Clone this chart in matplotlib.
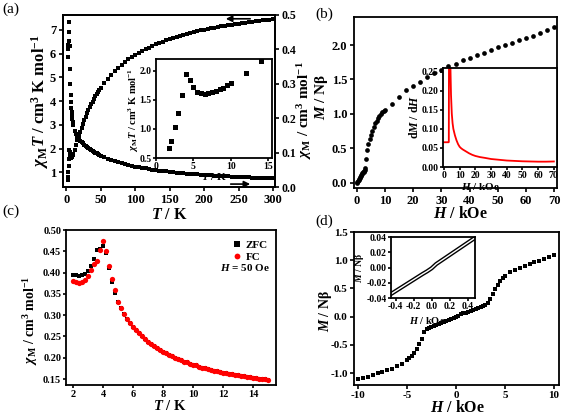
import numpy as np
import matplotlib
matplotlib.use('Agg')
import matplotlib.pyplot as plt

plt.rcParams['font.family'] = 'Liberation Serif'
plt.rcParams['font.weight'] = 'bold'
plt.rcParams['mathtext.fontset'] = 'custom'
plt.rcParams['mathtext.rm'] = 'Liberation Serif:bold'
plt.rcParams['mathtext.it'] = 'Liberation Serif:italic:bold'
plt.rcParams['mathtext.bf'] = 'Liberation Serif:bold'
plt.rcParams['axes.unicode_minus'] = False
plt.rcParams['axes.linewidth'] = 1.3

# ----- (a) chiT and chi vs T -----
T_a = [1.8, 2, 2.5, 3, 3.5, 4, 4.5, 5, 5.5, 6, 6.5, 7, 7.5, 8, 8.5, 9, 9.5, 10,
       12, 14, 16, 18, 20, 22, 24, 26, 28, 30, 32, 34, 36, 38, 40, 42, 44, 46, 48, 50,
       55, 60, 65, 70, 75, 80, 85, 90, 95, 100, 105, 110, 115, 120, 125, 130, 135, 140,
       145, 150, 155, 160, 165, 170, 175, 180, 185, 190, 195, 200, 205, 210, 215, 220,
       225, 230, 235, 240, 245, 250, 255, 260, 265, 270, 275, 280, 285, 290, 295, 300]
chiT_a = [0.68, 0.80, 1.03, 1.27, 1.58, 1.95, 1.84, 1.72, 1.64, 1.61, 1.60, 1.61, 1.63, 1.65, 1.68, 1.71, 1.75, 1.79,
          1.96, 2.16, 2.36, 2.52, 2.69, 2.87, 3.04, 3.20, 3.35, 3.49, 3.62, 3.75, 3.87, 3.98, 4.09, 4.20, 4.29, 4.39, 4.48, 4.57,
          4.77, 4.95, 5.12, 5.27, 5.40, 5.53, 5.65, 5.76, 5.86, 5.95, 6.04, 6.12, 6.19, 6.26, 6.33, 6.40, 6.46, 6.51,
          6.57, 6.62, 6.66, 6.71, 6.75, 6.80, 6.84, 6.87, 6.91, 6.94, 6.98, 7.01, 7.04, 7.07, 7.10, 7.13,
          7.15, 7.18, 7.20, 7.22, 7.25, 7.27, 7.29, 7.31, 7.33, 7.35, 7.37, 7.39, 7.40, 7.42, 7.44, 7.45]
chi_a = [0.378, 0.400, 0.412, 0.423, 0.451, 0.480, 0.409, 0.344, 0.298, 0.268, 0.246, 0.230, 0.217, 0.206, 0.198, 0.190, 0.184, 0.179,
         0.163, 0.154, 0.1475, 0.140, 0.1345, 0.130, 0.1266, 0.123, 0.1195, 0.1162, 0.1131, 0.1102, 0.1074, 0.1048, 0.1023, 0.100, 0.0976, 0.0954, 0.0933, 0.0913,
         0.0867, 0.0825, 0.0787, 0.0752, 0.0720, 0.0691, 0.0664, 0.0639, 0.0616, 0.0595, 0.0575, 0.0556, 0.0539, 0.0522, 0.0507, 0.0492, 0.0478, 0.0465,
         0.0453, 0.0441, 0.0430, 0.0419, 0.0409, 0.0400, 0.0391, 0.0382, 0.0373, 0.0365, 0.0358, 0.0350, 0.0343, 0.0337, 0.0330, 0.0324,
         0.0318, 0.0312, 0.0306, 0.0301, 0.0296, 0.0291, 0.0286, 0.0281, 0.0277, 0.0272, 0.0268, 0.0264, 0.0260, 0.0256, 0.0252, 0.0248]
# inset uses the low temperature part (T <= 14 K)
n_inset = 20

# ----- (b) M vs H at 2 K, and dM/dH -----
H_b = [0, 0.2, 0.4, 0.6, 0.8, 1.0, 1.2, 1.4, 1.6, 1.8, 2.0, 2.2, 2.4, 2.6, 2.8, 3.0, 3.2, 3.5,
       4.0, 4.5, 5.0, 5.5, 6.0, 6.5, 7.0, 7.5, 8.0, 8.5, 9.0, 9.5, 10.0,
       12.5, 15, 17.5, 20, 22.5, 25, 27.5, 30, 32.5, 35, 37.5, 40, 42.5, 45, 47.5, 50,
       52.5, 55, 57.5, 60, 62.5, 65, 67.5, 70]
M_b = [0, 0.013, 0.027, 0.040, 0.054, 0.067, 0.080, 0.094, 0.107, 0.120, 0.134, 0.147, 0.160, 0.174, 0.187, 0.21, 0.34, 0.47,
       0.56, 0.63, 0.69, 0.75, 0.81, 0.86, 0.90, 0.94, 0.97, 1.00, 1.02, 1.04, 1.06,
       1.15, 1.25, 1.34, 1.40, 1.47, 1.53, 1.59, 1.64, 1.69, 1.73, 1.78, 1.82, 1.86, 1.89, 1.93, 1.97,
       2.00, 2.03, 2.07, 2.10, 2.14, 2.18, 2.22, 2.27]
H_deriv = [0, 0.5, 1, 1.5, 2, 2.5, 3.0, 3.1, 3.5, 4.0, 4.2, 4.5, 5, 5.5, 6, 7, 8, 9, 10, 11, 12, 14, 16, 18,
           20, 23, 26, 30, 35, 40, 45, 50, 55, 60, 65, 70]
dMdH = [0.065, 0.065, 0.065, 0.065, 0.065, 0.065, 0.065, 0.066, 0.90, 0.30, 0.25, 0.19, 0.14, 0.115, 0.10, 0.083,
        0.070, 0.060, 0.053, 0.049, 0.046, 0.041, 0.036, 0.032, 0.029, 0.026, 0.024, 0.021, 0.019, 0.017, 0.016,
        0.015, 0.0145, 0.014, 0.014, 0.0145]

# ----- (c) ZFC / FC -----
T_c = [2.0, 2.2, 2.4, 2.6, 2.8, 3.0, 3.2, 3.4, 3.6, 3.8, 4.0, 4.2, 4.4, 4.6, 4.8,
       5.0, 5.2, 5.4, 5.6, 5.8, 6.0, 6.2, 6.4, 6.6, 6.8, 7.0, 7.2, 7.4, 7.6, 7.8,
       8.0, 8.2, 8.4, 8.6, 8.8, 9.0, 9.2, 9.4, 9.6, 9.8, 10.0, 10.2, 10.4, 10.6, 10.8,
       11.0, 11.2, 11.4, 11.6, 11.8, 12.0, 12.2, 12.4, 12.6, 12.8, 13.0, 13.2, 13.4, 13.6, 13.8,
       14.0, 14.2, 14.4, 14.6, 14.8, 15.0]
zfc_low = [0.395, 0.394, 0.393, 0.394, 0.397, 0.404, 0.416, 0.431, 0.453, 0.455, 0.462, 0.446, 0.410, 0.378, 0.353]
fc_low = [0.380, 0.377, 0.376, 0.377, 0.382, 0.391, 0.405, 0.420, 0.428, 0.452, 0.473, 0.450, 0.416, 0.384, 0.359]
chi_tail = [0.330, 0.316, 0.303, 0.292, 0.282, 0.273, 0.265, 0.257, 0.250, 0.244, 0.238, 0.232, 0.227, 0.223, 0.218,
            0.214, 0.210, 0.207, 0.203, 0.200, 0.197, 0.194, 0.191, 0.189, 0.186, 0.184, 0.182, 0.179, 0.177, 0.175,
            0.174, 0.172, 0.170, 0.168, 0.167, 0.165, 0.164, 0.163, 0.161, 0.160, 0.159, 0.157, 0.156, 0.155, 0.154,
            0.153, 0.152, 0.151, 0.150, 0.149, 0.148]
zfc = zfc_low + chi_tail
fc = fc_low + chi_tail

# ----- (d) hysteresis loop -----
H_d = [-10, -9.5, -9, -8.5, -8, -7.5, -7, -6.5, -6, -5.5, -5, -4.75, -4.5, -4.25, -4, -3.75, -3.5, -3.25,
       -3.0, -2.75, -2.5, -2.25, -2.0, -1.75, -1.5, -1.25, -1.0, -0.75, -0.5, -0.25, 0.0,
       0.25, 0.5, 0.75, 1.0, 1.25, 1.5, 1.75, 2.0, 2.25, 2.5, 2.75, 3.0,
       3.25, 3.5, 3.75, 4.0, 4.25, 4.5, 4.75, 5.0, 5.5, 6.0, 6.5, 7.0, 7.5, 8.0, 8.5, 9.0, 9.5, 10.0]
M_d = [-1.11, -1.085, -1.06, -1.035, -1.005, -0.98, -0.95, -0.92, -0.88, -0.835, -0.775, -0.74, -0.695, -0.64, -0.57, -0.49, -0.39, -0.28,
       -0.22, -0.202, -0.184, -0.166, -0.148, -0.13, -0.112, -0.094, -0.076, -0.058, -0.04, -0.02, 0.0,
       0.02, 0.04, 0.057, 0.074, 0.091, 0.108, 0.125, 0.142, 0.159, 0.176, 0.193, 0.21,
       0.235, 0.32, 0.41, 0.49, 0.56, 0.625, 0.68, 0.72, 0.785, 0.825, 0.86, 0.895, 0.93, 0.96, 0.99, 1.02, 1.05, 1.09]
H_loop = [-0.5, -0.4, -0.3, -0.2, -0.1, -0.05, 0.0, 0.05, 0.1, 0.2, 0.3, 0.4, 0.5]
M_loop = [-0.0385, -0.031, -0.0235, -0.016, -0.0085, -0.005, -0.001, 0.0045, 0.0085, 0.0165, 0.0245, 0.0325, 0.0405]

W, H = 563, 415


def box(left, top, right, bottom):
    return [left / W, 1 - bottom / H, (right - left) / W, (bottom - top) / H]


def label(x, y, s, size, rot=0, **kw):
    fig.text(x / W, 1 - y / H, s, fontsize=size, rotation=rot, ha='center', va='center', **kw)


def style(ax, size, length=3, pad=2):
    ax.tick_params(direction='out', length=length, width=1.2, labelsize=size, pad=pad)
    for sp in ax.spines.values():
        sp.set_linewidth(1.3)


fig = plt.figure(figsize=(5.63, 4.15), dpi=100)

# (a)
ax = fig.add_axes(box(63, 15, 275, 187))
ax.plot(T_a, chiT_a, 's', color='black', ms=2.9, mew=0)
ax.set_xlim(-5, 303)
ax.set_ylim(0.38, 7.63)
ax.set_xticks([0, 50, 100, 150, 200, 250, 300])
ax.set_yticks([1, 2, 3, 4, 5, 6, 7])
style(ax, 9)
ax2 = ax.twinx()
ax2.plot(T_a, chi_a, 's', color='black', ms=2.9, mew=0)
ax2.set_ylim(0, 0.5)
ax2.set_yticks([0.0, 0.1, 0.2, 0.3, 0.4, 0.5])
ax2.set_yticklabels(['0.0', '0.1', '0.2', '0.3', '0.4', '0.5'])
style(ax2, 8.5, pad=1.5)
ax.annotate('', xy=(0.755, 0.978), xytext=(0.896, 0.978), xycoords='axes fraction',
            arrowprops=dict(arrowstyle='-|>', color='black', lw=1.2, mutation_scale=9))
ax.annotate('', xy=(0.896, 0.017), xytext=(0.778, 0.017), xycoords='axes fraction',
            arrowprops=dict(arrowstyle='-|>', color='black', lw=1.2, mutation_scale=9))

axi = fig.add_axes(box(156, 59, 272, 158))
axi.plot(T_a[:n_inset], chiT_a[:n_inset], 's', color='black', ms=3.6, mew=0)
axi.set_xlim(0, 15.5)
axi.set_ylim(0.5, 2.2)
axi.set_xticks([0, 5, 10, 15])
axi.set_yticks([0.5, 1.0, 1.5, 2.0])
style(axi, 7, length=2, pad=1)

label(169, 215, r'$T$ / K', 11.5)
label(40, 101, r'$\chi_{\rm M}T$ / cm$^3$ K mol$^{-1}$', 12, rot=90)
label(305, 110, r'$\chi_{\rm M}$ / cm$^3$ mol$^{-1}$', 11, rot=90)
label(134, 110, r'$\chi_{\rm M}T$ / cm$^3$ K mol$^{-1}$', 7.5, rot=90)
label(214, 176, r'$T$ / K', 8)

# (b)
bx = fig.add_axes(box(354, 17, 557, 188))
bx.plot(H_b, M_b, 'o', color='black', ms=3.4, mew=0)
bx.set_xlim(-1, 71)
bx.set_ylim(-0.08, 2.41)
bx.set_xticks([0, 10, 20, 30, 40, 50, 60, 70])
bx.set_yticks([0.0, 0.5, 1.0, 1.5, 2.0])
style(bx, 9)

bxi = fig.add_axes(box(443, 68, 557, 167))
bxi.plot(H_deriv, dMdH, '-', color='red', lw=1.3)
bxi.set_xlim(-0.6, 72)
bxi.set_ylim(0, 0.26)
bxi.set_xticks([0, 10, 20, 30, 40, 50, 60, 70])
bxi.set_yticks([0.00, 0.05, 0.10, 0.15, 0.20, 0.25])
style(bxi, 7, length=2, pad=1)

label(322, 97, r'$M$ / Nβ', 11, rot=90)
label(460, 214, r'$H$ / kOe', 11.5)
label(415, 117, r'd$M$ / d$H$', 8.5, rot=90)
label(480, 186, r'$H$ / kOe', 8)

# (c)
cx = fig.add_axes(box(66, 230, 276, 385))
cx.plot(T_c, zfc, 's', color='black', ms=3.4, mew=0, label='ZFC')
cx.plot(T_c, fc, 'o', color='red', ms=3.8, mew=0, label='FC')
cx.set_xlim(1.52, 15.5)
cx.set_ylim(0.136, 0.5)
cx.set_xticks([2, 4, 6, 8, 10, 12, 14])
cx.set_yticks([0.15, 0.20, 0.25, 0.30, 0.35, 0.40, 0.45, 0.50])
style(cx, 7.5, length=2.5, pad=1)
cx.legend(loc='upper right', bbox_to_anchor=(1.01, 1.0), frameon=False, fontsize=8,
          handletextpad=0.2, labelspacing=0.25, handlelength=1.2, markerscale=1.1)
cx.text(0.97, 0.76, r'$H$ = 50 Oe', transform=cx.transAxes, ha='right', va='center', fontsize=8)

label(31, 320, r'$\chi_{\rm M}$ / cm$^3$ mol$^{-1}$', 10, rot=90)
label(170, 406, r'$T$ / K', 10.5)

# (d)
dx = fig.add_axes(box(354, 232, 559, 385))
dx.plot(H_d, M_d, 's', color='black', ms=2.6, mew=0)
dx.set_xlim(-10.4, 10.5)
dx.set_ylim(-1.21, 1.5)
dx.set_xticks([-10, -5, 0, 5, 10])
dx.set_yticks([-1.0, -0.5, 0.0, 0.5, 1.0, 1.5])
style(dx, 8, pad=1.5)

dxi = fig.add_axes(box(391, 237, 475, 298))
dxi.plot(H_loop, M_loop, '-', color='black', lw=3.0)
dxi.plot(H_loop, M_loop, '-', color='white', lw=1.0)
dxi.set_xlim(-0.45, 0.48)
dxi.set_ylim(-0.04, 0.04)
dxi.set_xticks([-0.4, -0.2, 0.0, 0.2, 0.4])
dxi.set_yticks([-0.04, -0.02, 0.00, 0.02, 0.04])
style(dxi, 7, length=2, pad=1)

label(326, 311, r'$M$ / Nβ', 10, rot=90)
label(457, 408, r'$H$ / kOe', 11.5)
label(360, 268, r'$M$ / Nβ', 7, rot=90)
label(427, 320, r'$H$ / kOe', 7.5)

# panel letters
for x, y, s in [(11, 9, '(a)'), (324, 14, '(b)'), (11, 211, '(c)'), (324, 221, '(d)')]:
    fig.text(x / W, 1 - y / H, s, fontsize=11, fontweight='normal', ha='center', va='center')

fig.savefig('out.png', dpi=100)
